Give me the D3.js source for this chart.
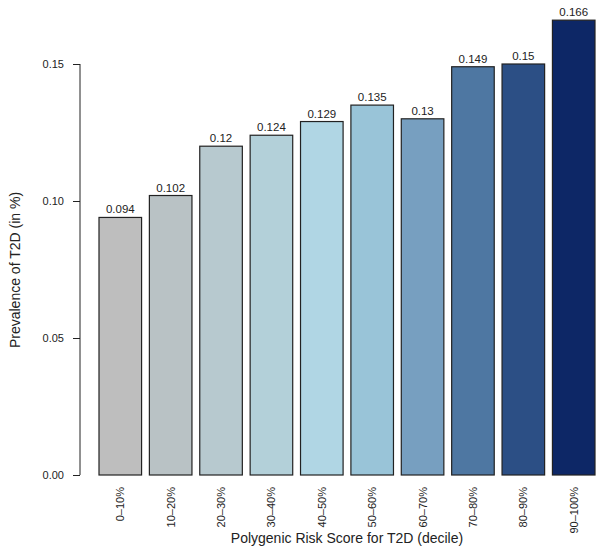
<!DOCTYPE html>
<html><head><meta charset="utf-8">
<script src="https://cdn.jsdelivr.net/npm/d3@7"></script>
<style>body{margin:0;background:#fff}svg{display:block}text{font-family:"Liberation Sans",Arial,sans-serif}</style>
</head><body>
<script>
const categories = ["0–10%","10–20%","20–30%","30–40%","40–50%","50–60%","60–70%","70–80%","80–90%","90–100%"];
const values = [0.094,0.102,0.12,0.124,0.129,0.135,0.13,0.149,0.15,0.166];
const valueLabels = ["0.094","0.102","0.12","0.124","0.129","0.135","0.13","0.149","0.15","0.166"];
const colors = ["#bebebe","#b9c2c5","#b7c9cf","#b3d0d9","#b0d6e4","#99c4d8","#779fc0","#4e77a2","#2c4f85","#0d2766"];
const yTicks = [0,0.05,0.10,0.15];

const W=603,H=556;
const svg=d3.select("body").append("svg").attr("width",W).attr("height",H);
const y=d3.scaleLinear().domain([0,0.15]).range([475,64]);
const x=d3.scaleBand().domain(categories).range([99,595]).paddingInner(0.155).paddingOuter(0);

svg.selectAll("rect.bar").data(values).enter().append("rect")
 .attr("x",(d,i)=>x(categories[i])).attr("width",x.bandwidth())
 .attr("y",d=>y(d)).attr("height",d=>y(0)-y(d))
 .attr("fill",(d,i)=>colors[i]).attr("stroke","#222").attr("stroke-width",1.2);

svg.selectAll("text.val").data(values).enter().append("text")
 .attr("x",(d,i)=>x(categories[i])+x.bandwidth()/2).attr("y",d=>y(d)-4)
 .attr("text-anchor","middle").attr("font-size",11.5).attr("fill","#222")
 .text((d,i)=>valueLabels[i]);

const yAxis=d3.axisLeft(y).tickValues(yTicks).tickFormat(d3.format(".2f")).tickSize(7).tickPadding(9);
const ga=svg.append("g").attr("transform","translate(80,0)").call(yAxis);
ga.select(".domain").attr("d",`M0,${y(0)}V${y(0.15)}`).attr("stroke","#222");
ga.selectAll(".tick line").attr("stroke","#222");
ga.selectAll("text").attr("font-size",11).attr("fill","#222").style("font-family","Liberation Sans,Arial,sans-serif");

svg.selectAll("text.xl").data(categories).enter().append("text")
 .attr("transform",(d)=>`translate(${x(d)+x.bandwidth()/2+4},487) rotate(-90)`)
 .attr("text-anchor","end").attr("font-size",11).attr("fill","#222").text(d=>d);

svg.append("text").attr("x",347).attr("y",543).attr("text-anchor","middle").attr("font-size",14).attr("fill","#222")
 .text("Polygenic Risk Score for T2D (decile)");
svg.append("text").attr("transform","translate(20,270) rotate(-90)").attr("text-anchor","middle").attr("font-size",14).attr("fill","#222")
 .text("Prevalence of T2D (in %)");
</script>
</body></html>
